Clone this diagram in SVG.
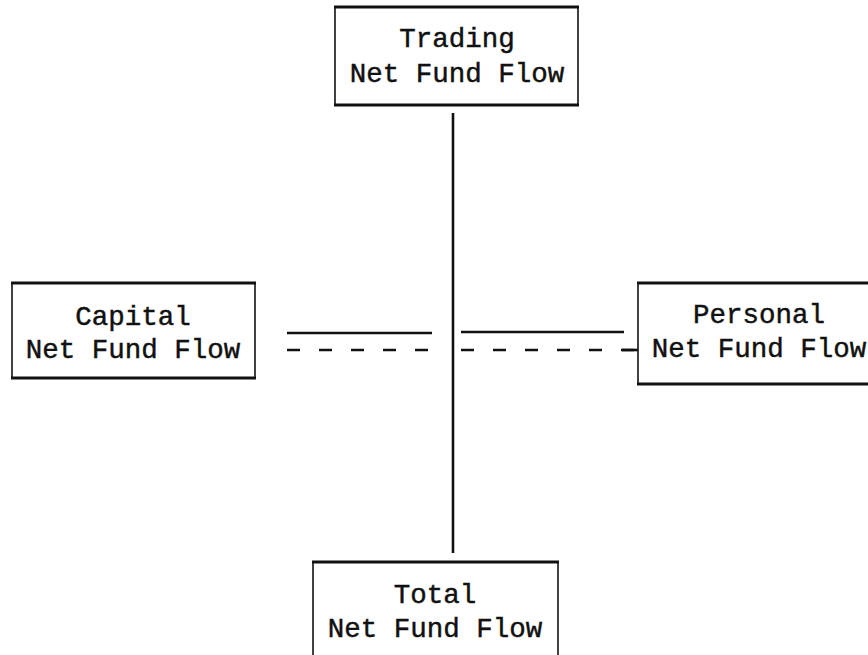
<svg xmlns="http://www.w3.org/2000/svg" width="868" height="655" viewBox="0 0 868 655">
<style>
.h{stroke:#111;stroke-width:3;fill:none}
.v{stroke:#111;stroke-width:1.6;fill:none}
.t{font-family:"Liberation Mono","Courier New",monospace;font-size:27.5px;fill:#111;stroke:#111;stroke-width:0.45;text-anchor:middle}
.c{stroke:#111;stroke-width:2.6;fill:none}
.d{stroke:#111;stroke-width:2.6;fill:none;stroke-dasharray:13 19}
</style>
<rect width="868" height="655" fill="#fff"/>
<g id="trading">
<line class="h" x1="334" y1="7" x2="579" y2="7"/>
<line class="h" x1="334" y1="105" x2="579" y2="105"/>
<line class="v" x1="335" y1="7" x2="335" y2="105"/>
<line class="v" x1="578" y1="7" x2="578" y2="105"/>
<text class="t" x="457" y="47">Trading</text>
<text class="t" x="457" y="82">Net Fund Flow</text>
</g>
<g id="capital">
<line class="h" x1="11" y1="283" x2="256" y2="283"/>
<line class="h" x1="11" y1="378" x2="256" y2="378"/>
<line class="v" x1="12" y1="283" x2="12" y2="378"/>
<line class="v" x1="255" y1="283" x2="255" y2="378"/>
<text class="t" x="133" y="325">Capital</text>
<text class="t" x="133" y="358">Net Fund Flow</text>
</g>
<g id="personal">
<line class="h" x1="637" y1="283" x2="868" y2="283"/>
<line class="h" x1="637" y1="384" x2="868" y2="384"/>
<line class="v" x1="638" y1="283" x2="638" y2="384"/>
<text class="t" x="759" y="323">Personal</text>
<text class="t" x="759" y="357">Net Fund Flow</text>
</g>
<g id="total">
<line class="h" x1="312" y1="562" x2="559" y2="562"/>
<line class="v" x1="313" y1="562" x2="313" y2="655"/>
<line class="v" x1="558" y1="562" x2="558" y2="655"/>
<text class="t" x="435" y="603">Total</text>
<text class="t" x="435" y="637">Net Fund Flow</text>
</g>
<g id="connectors">
<line class="c" x1="453" y1="113" x2="453" y2="553" stroke-width="3"/>
<line class="c" x1="287" y1="333" x2="432" y2="333"/>
<line class="d" x1="287" y1="350" x2="428" y2="350"/>
<line class="c" x1="461" y1="332" x2="624" y2="332"/>
<line class="d" x1="461" y1="350" x2="634" y2="350"/>
<line class="c" x1="622" y1="350" x2="638" y2="350"/>
</g>
</svg>
